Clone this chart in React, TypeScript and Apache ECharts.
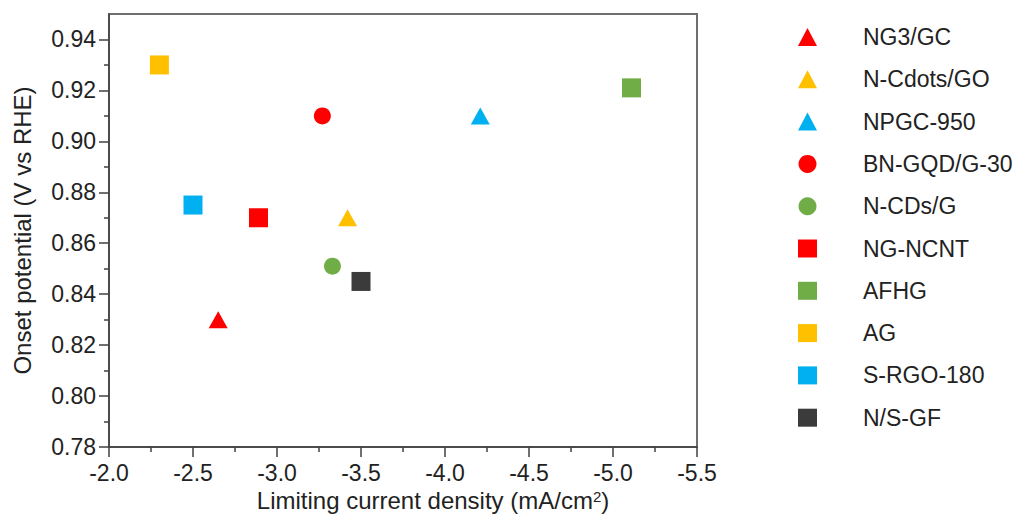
import React, { useEffect, useRef } from "react";
import * as echarts from "echarts";

const names = ["NG3/GC", "N-Cdots/GO", "NPGC-950", "BN-GQD/G-30", "N-CDs/G", "NG-NCNT", "AFHG", "AG", "S-RGO-180", "N/S-GF"];
const currents = [-2.65, -3.42, -4.21, -3.27, -3.33, -2.89, -5.11, -2.3, -2.5, -3.5];
const potentials = [0.83, 0.87, 0.91, 0.91, 0.851, 0.87, 0.921, 0.93, 0.875, 0.845];
const symbols = ["triangle", "triangle", "triangle", "circle", "circle", "rect", "rect", "rect", "rect", "rect"];
const colors = ["#FF0000", "#FFC000", "#00B0F0", "#FF0000", "#70AD47", "#FF0000", "#70AD47", "#FFC000", "#00B0F0", "#3B3B3B"];
const yMajorTicks = [0.78, 0.8, 0.82, 0.84, 0.86, 0.88, 0.9, 0.92, 0.94];
const yMinorTicks = [0.79, 0.81, 0.83, 0.85, 0.87, 0.89, 0.91, 0.93];

const FONT = "'Liberation Sans', Arial, sans-serif";
const TEXT = "#222222";

export default function App() {
  const ref = useRef<HTMLDivElement>(null);
  useEffect(() => {
    if (!ref.current) return;
    const chart = echarts.init(ref.current, null, { renderer: "svg" });
    const symbolSize = (s: string) => (s === "triangle" ? [19, 17] : s === "circle" ? 17 : 19);
    chart.setOption({
      animation: false,
      textStyle: { fontFamily: FONT, color: TEXT },
      grid: {
        left: 109,
        top: 14,
        right: 320,
        bottom: 72,
        show: true,
        borderColor: "#6f6f6f",
        borderWidth: 2,
        containLabel: false,
      },
      legend: {
        orient: "vertical",
        left: 793,
        top: 20,
        itemWidth: 19,
        itemHeight: 18,
        itemGap: 18.3,
        selectedMode: false,
        data: names,
        textStyle: {
          fontFamily: FONT,
          fontSize: 23,
          lineHeight: 24,
          color: TEXT,
          padding: [0, 0, 0, 41],
        },
      },
      xAxis: {
        type: "value",
        min: -5.5,
        max: -2.0,
        interval: 0.5,
        inverse: true,
        name: "Limiting current density (mA/cm{sup|2})",
        nameLocation: "middle",
        nameGap: 36,
        nameTextStyle: {
          fontFamily: FONT,
          fontSize: 24,
          color: TEXT,
          padding: [0, 0, 0, 60],
          rich: {
            sup: { fontSize: 15, lineHeight: 10, verticalAlign: "top", fontFamily: FONT, color: TEXT },
          },
        },
        axisLine: { show: true, lineStyle: { color: "#404040", width: 1.5 } },
        axisTick: { show: true, inside: false, length: 10, lineStyle: { color: "#404040", width: 1.5 } },
        minorTick: { show: true, splitNumber: 2, length: 5, lineStyle: { color: "#404040", width: 1.5 } },
        axisLabel: {
          fontFamily: FONT,
          fontSize: 23,
          color: TEXT,
          margin: 14,
          formatter: (v: number) => v.toFixed(1),
        },
        splitLine: { show: false },
      },
      yAxis: [
        {
          type: "value",
          min: 0.78,
          max: 0.95,
          interval: 0.02,
          name: "Onset potential (V vs RHE)",
          nameLocation: "middle",
          nameGap: 75,
          nameTextStyle: { fontFamily: FONT, fontSize: 24, color: TEXT },
          axisLine: { show: true, lineStyle: { color: "#404040", width: 1.5 } },
          axisTick: {
            show: true,
            length: 10,
            customValues: yMajorTicks,
            lineStyle: { color: "#404040", width: 1.5 },
          },
          axisLabel: {
            fontFamily: FONT,
            fontSize: 23,
            color: TEXT,
            margin: 13,
            customValues: yMajorTicks,
            formatter: (v: number) => v.toFixed(2),
          },
          splitLine: { show: false },
        },
        {
          type: "value",
          min: 0.78,
          max: 0.95,
          interval: 0.02,
          position: "left",
          axisLine: { show: false },
          axisTick: {
            show: true,
            length: 5,
            customValues: yMinorTicks,
            lineStyle: { color: "#404040", width: 1.5 },
          },
          axisLabel: { show: false },
          splitLine: { show: false },
        },
      ],
      series: names.map((n, i) => ({
        name: n,
        type: "scatter",
        symbol: symbols[i],
        symbolSize: symbolSize(symbols[i]),
        itemStyle: { color: colors[i], opacity: 1 },
        data: [[currents[i], potentials[i]]],
      })),
    });
    return () => chart.dispose();
  }, []);
  return <div ref={ref} style={{ width: 1017, height: 519, position: "absolute", left: 0, top: 0 }} />;
}
